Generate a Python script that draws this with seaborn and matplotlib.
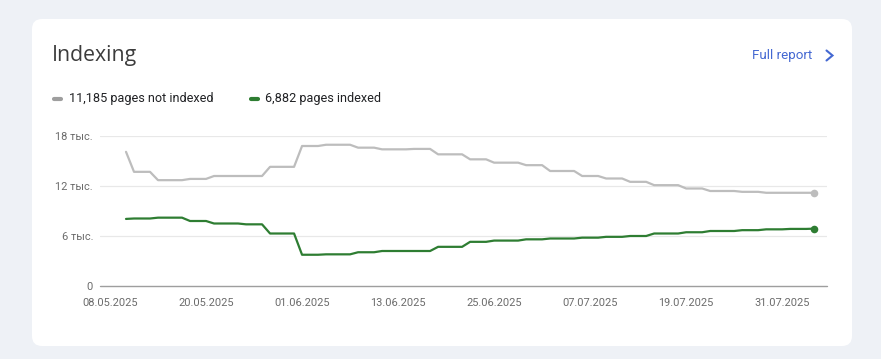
import numpy as np
import pandas as pd
import matplotlib
matplotlib.use("Agg")
import matplotlib.pyplot as plt
import matplotlib.dates as mdates
from matplotlib.patches import FancyBboxPatch
from matplotlib.lines import Line2D
import seaborn as sns

# ---------------- data ----------------
start_date = "2025-05-10"
n_days = 87
dates = pd.date_range(start_date, periods=n_days, freq="D")

not_indexed = [
    16100,
    13700, 13700, 13700,
    12700, 12700, 12700, 12700,
    12850, 12850, 12850,
    13200, 13200, 13200, 13200, 13200, 13200, 13200,
    14300, 14300, 14300, 14300,
    16800, 16800, 16800,
    16950, 16950, 16950, 16950,
    16600, 16600, 16600,
    16400, 16400, 16400, 16400, 16450, 16450, 16450,
    15800, 15800, 15800, 15800,
    15200, 15200, 15200,
    14800, 14800, 14800, 14800,
    14500, 14500, 14500,
    13800, 13800, 13800, 13800,
    13200, 13200, 13200,
    12900, 12900, 12900,
    12500, 12500, 12500,
    12100, 12100, 12100, 12100,
    11700, 11700, 11700,
    11400, 11400, 11400, 11400,
    11300, 11300, 11300,
    11185, 11185, 11185, 11185, 11185, 11185, 11185,
]

indexed = [
    8050,
    8100, 8100, 8100,
    8200, 8200, 8200, 8200,
    7800, 7800, 7800,
    7500, 7500, 7500, 7500,
    7400, 7400, 7400,
    6300, 6300, 6300, 6300,
    3750, 3750, 3750,
    3800, 3800, 3800, 3800,
    4050, 4050, 4050,
    4200, 4200, 4200, 4200, 4200, 4200, 4200,
    4700, 4700, 4700, 4700,
    5300, 5300, 5300,
    5450, 5450, 5450, 5450,
    5600, 5600, 5600,
    5700, 5700, 5700, 5700,
    5800, 5800, 5800,
    5900, 5900, 5900,
    6000, 6000, 6000,
    6300, 6300, 6300, 6300,
    6450, 6450, 6450,
    6600, 6600, 6600, 6600,
    6700, 6700, 6700,
    6800, 6800, 6800, 6850, 6850, 6850, 6882,
]

series_names = ["11,185 pages not indexed", "6,882 pages indexed"]
series_colors = ["#bdbdbd", "#2e7d32"]
legend_colors = ["#9e9e9e", "#2e7d32"]
y_ticks = [0, 6000, 12000, 18000]
y_tick_labels = ["0", "6 тыс.", "12 тыс.", "18 тыс."]
x_tick_dates = ["2025-05-08", "2025-05-20", "2025-06-01", "2025-06-13",
                "2025-06-25", "2025-07-07", "2025-07-19", "2025-07-31"]

df = pd.DataFrame({
    "date": list(dates) * 2,
    "value": not_indexed + indexed,
    "series": [series_names[0]] * n_days + [series_names[1]] * n_days,
})

# ---------------- style ----------------
sns.set_theme(style="white")
plt.rcParams["font.family"] = ["Roboto", "DejaVu Sans"]

W, H = 881, 359
fig = plt.figure(figsize=(W / 100, H / 100), dpi=100)
fig.patch.set_facecolor("#eef1f6")

# card
card = FancyBboxPatch((0.32, 0.13), 8.20, 3.27,
                      boxstyle="round,pad=0,rounding_size=0.10",
                      transform=fig.dpi_scale_trans,
                      facecolor="white", edgecolor="none", zorder=-5)
fig.patches.append(card)

def fx(px):
    return px / W

def fy(py):
    return 1 - py / H

ax = fig.add_axes([fx(100), fy(286), (827 - 100) / W, (286 - 136) / H])
ax.set_zorder(2)
ax.set_facecolor("none")

sns.lineplot(data=df, x="date", y="value", hue="series",
             palette=dict(zip(series_names, series_colors)),
             linewidth=1.6, legend=False, ax=ax, zorder=3)

# endpoint markers
ax.scatter([dates[-1]], [not_indexed[-1]], s=30, color=series_colors[0],
           zorder=4, clip_on=False, linewidths=0)
ax.scatter([dates[-1]], [indexed[-1]], s=30, color=series_colors[1],
           zorder=4, clip_on=False, linewidths=0)

d0 = pd.Timestamp(start_date)
ax.set_xlim(d0 - pd.Timedelta(days=3.25), d0 + pd.Timedelta(days=87.6))
ax.set_ylim(0, 18000)

ax.set_yticks(y_ticks)
ax.set_yticklabels(y_tick_labels)
ax.set_xticks(pd.to_datetime(x_tick_dates))
ax.xaxis.set_major_formatter(mdates.DateFormatter("%d.%m.%Y"))

for y in y_ticks[1:]:
    ax.axhline(y, color="#e8e8e8", linewidth=0.9, zorder=1)
ax.axhline(0, color="#9e9e9e", linewidth=1.0, zorder=2, clip_on=False)

for s in ax.spines.values():
    s.set_visible(False)
ax.tick_params(axis="both", length=0, labelsize=7.9, labelcolor="#6b6b6b")
ax.tick_params(axis="x", pad=9)
ax.tick_params(axis="y", pad=5)
ax.set_xlabel("")
ax.set_ylabel("")
ax.grid(False)

# title
fig.text(fx(52), fy(55), "Indexing", fontsize=15.3, color="#3c3c3c",
         va="center", ha="left", family=["Open Sans", "DejaVu Sans"])

# full report link
fig.text(fx(752), fy(55), "Full report", fontsize=9.6, color="#4468d2",
         va="center", ha="left")
fig.add_artist(Line2D([fx(826.5), fx(832.5), fx(826.5)],
                      [fy(50.5), fy(55.5), fy(60.5)],
                      transform=fig.transFigure, color="#4468d2",
                      linewidth=1.5, solid_joinstyle="miter"))

# legend
legend_items = [(52, 62, 69), (249, 259, 265)]
for (x0, x1, xt), name, col in zip(legend_items, series_names, legend_colors):
    fig.add_artist(Line2D([fx(x0 + 1.5), fx(x1 - 1.5)], [fy(98.5), fy(98.5)],
                          transform=fig.transFigure, color=col,
                          linewidth=3.0, solid_capstyle="round"))
    fig.text(fx(xt), fy(98.5), name, fontsize=9.1, color="#202124",
             va="center", ha="left")

fig.savefig("out.png", dpi=100, facecolor=fig.get_facecolor())
